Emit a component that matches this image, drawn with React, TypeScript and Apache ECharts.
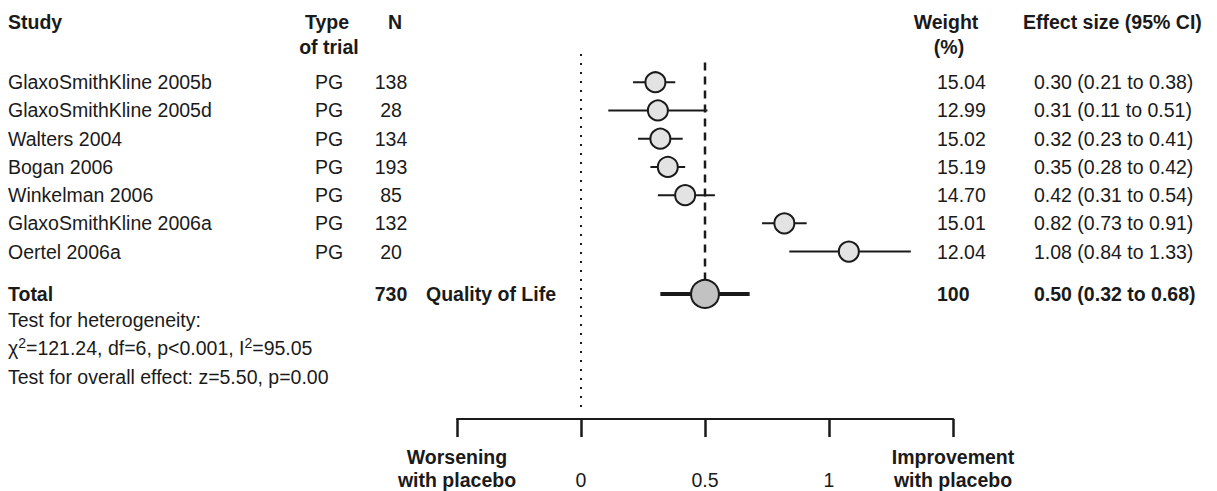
import React, { useEffect, useRef } from "react";
import * as echarts from "echarts";

// Study rows
const studies = [
  "GlaxoSmithKline 2005b",
  "GlaxoSmithKline 2005d",
  "Walters 2004",
  "Bogan 2006",
  "Winkelman 2006",
  "GlaxoSmithKline 2006a",
  "Oertel 2006a",
];
const trialTypes = ["PG", "PG", "PG", "PG", "PG", "PG", "PG"];
const sampleSizes = [138, 28, 134, 193, 85, 132, 20];
const weights = ["15.04", "12.99", "15.02", "15.19", "14.70", "15.01", "12.04"];
const effects = [0.3, 0.31, 0.32, 0.35, 0.42, 0.82, 1.08];
const lowerCI = [0.21, 0.11, 0.23, 0.28, 0.31, 0.73, 0.84];
const upperCI = [0.38, 0.51, 0.41, 0.42, 0.54, 0.91, 1.33];

// Pooled estimate
const totalN = 730;
const totalWeight = "100";
const totalEffect = 0.5;
const totalLower = 0.32;
const totalUpper = 0.68;
const outcomeLabel = "Quality of Life";

// Axis
const xTicks = [-0.5, 0, 0.5, 1, 1.5];
const leftEndLabel = ["Worsening", "with placebo"];
const rightEndLabel = ["Improvement", "with placebo"];

const TOTAL_ROW = 7.5;
const FONT = '"Liberation Sans", Arial, Helvetica, sans-serif';
const FS = 19.5;
const INK = "#1a1a1a";

const fmt = (v: number) => v.toFixed(2);

export default function App() {
  const ref = useRef<HTMLDivElement | null>(null);

  useEffect(() => {
    if (!ref.current) return;
    const chart = echarts.init(ref.current, undefined, { renderer: "svg" });

    const rows = studies.map((_, i) => [effects[i], lowerCI[i], upperCI[i], i, 0]);
    rows.push([totalEffect, totalLower, totalUpper, TOTAL_ROW, 1]);

    chart.setOption({
      animation: false,
      grid: { left: 457, right: 264, top: 54, bottom: 71 },
      xAxis: {
        type: "value",
        min: xTicks[0],
        max: xTicks[xTicks.length - 1],
        interval: 0.5,
        splitLine: { show: false },
        axisLine: { show: true, onZero: false, lineStyle: { color: INK, width: 2 } },
        axisTick: { show: true, length: 18, lineStyle: { color: INK, width: 2.5 } },
        axisLabel: {
          show: true,
          showMinLabel: true,
          showMaxLabel: true,
          margin: 26,
          color: INK,
          fontFamily: FONT,
          fontSize: FS,
          lineHeight: 23,
          formatter: (v: number) => {
            if (Math.abs(v - xTicks[0]) < 1e-9)
              return leftEndLabel.map((s) => `{b|${s}}`).join("\n");
            if (Math.abs(v - xTicks[xTicks.length - 1]) < 1e-9)
              return rightEndLabel.map((s) => `{b|${s}}`).join("\n");
            return "\n" + String(v);
          },
          rich: {
            b: { fontWeight: "bold", fontFamily: FONT, fontSize: FS, lineHeight: 23, color: INK },
          },
        },
      },
      yAxis: {
        type: "value",
        inverse: true,
        min: -1,
        max: 11.93,
        show: false,
      },
      series: [
        {
          // line of no effect
          type: "line",
          data: [],
          silent: true,
          markLine: {
            symbol: "none",
            silent: true,
            label: { show: false },
            lineStyle: { color: INK, width: 2, type: [2, 7] },
            data: [[{ coord: [0, -1] }, { coord: [0, 11.65] }]],
          },
        },
        {
          // pooled estimate reference
          type: "line",
          data: [
            [totalEffect, -0.7],
            [totalEffect, TOTAL_ROW],
          ],
          symbol: "none",
          silent: true,
          lineStyle: { color: INK, width: 2.5, type: [8, 6] },
          z: 2,
        },
        {
          type: "custom",
          z: 3,
          data: rows,
          encode: { x: [0, 1, 2], y: 3 },
          renderItem: (_params: any, api: any) => {
            const y = api.value(3);
            const isTotal = api.value(4) === 1;
            const lo = api.coord([api.value(1), y]);
            const hi = api.coord([api.value(2), y]);
            const c = api.coord([api.value(0), y]);
            return {
              type: "group",
              children: [
                {
                  type: "line",
                  shape: { x1: lo[0], y1: lo[1], x2: hi[0], y2: hi[1] },
                  style: { stroke: INK, lineWidth: isTotal ? 4 : 2 },
                },
                {
                  type: "circle",
                  shape: { cx: c[0], cy: c[1], r: isTotal ? 14 : 10 },
                  style: {
                    fill: isTotal ? "#c2c2c2" : "#e3e3e3",
                    stroke: INK,
                    lineWidth: 2,
                  },
                },
              ],
            };
          },
        },
      ],
    });

    const rowY = (r: number) => chart.convertToPixel({ yAxisIndex: 0 }, r) as number;
    const txt = (
      text: string,
      x: number,
      y: number,
      align: "left" | "center" | "right" = "left",
      bold = false
    ) => ({
      type: "text",
      x,
      y,
      silent: true,
      style: {
        text,
        align,
        verticalAlign: "middle",
        fill: INK,
        font: `${bold ? "bold " : ""}${FS}px ${FONT}`,
      },
    });

    const g: any[] = [];
    // headers
    g.push(txt("Study", 8, 22, "left", true));
    g.push(txt("Type", 327, 22, "center", true));
    g.push(txt("of trial", 329, 47, "center", true));
    g.push(txt("N", 395, 22, "center", true));
    g.push(txt("Weight", 946, 22, "center", true));
    g.push(txt("(%)", 949, 47, "center", true));
    g.push(txt("Effect size (95% CI)", 1023, 22, "left", true));

    studies.forEach((s, i) => {
      const y = rowY(i);
      g.push(txt(s, 8, y));
      g.push(txt(trialTypes[i], 329, y, "center"));
      g.push(txt(String(sampleSizes[i]), 391, y, "center"));
      g.push(txt(weights[i], 937, y));
      g.push(txt(`${fmt(effects[i])} (${fmt(lowerCI[i])} to ${fmt(upperCI[i])})`, 1034, y));
    });

    const ty = rowY(TOTAL_ROW);
    g.push(txt("Total", 8, ty, "left", true));
    g.push(txt(String(totalN), 391, ty, "center", true));
    g.push(txt(outcomeLabel, 556, ty, "right", true));
    g.push(txt(totalWeight, 937, ty, "left", true));
    g.push(
      txt(`${fmt(totalEffect)} (${fmt(totalLower)} to ${fmt(totalUpper)})`, 1034, ty, "left", true)
    );

    g.push(txt("Test for heterogeneity:", 8, 320));
    g.push({
      type: "text",
      x: 8,
      y: 348,
      silent: true,
      style: {
        text: "{n|χ}{s|2}{n|=121.24, df=6, p<0.001, I}{s|2}{n|=95.05}",
        align: "left",
        verticalAlign: "middle",
        rich: {
          n: { fontFamily: FONT, fontSize: FS, lineHeight: 24, fill: INK, color: INK },
          s: {
            fontFamily: FONT,
            fontSize: 14,
            lineHeight: 24,
            fill: INK,
            color: INK,
            verticalAlign: "top",
          },
        },
      },
    });
    g.push(txt("Test for overall effect: z=5.50, p=0.00", 8, 377));

    chart.setOption({ graphic: g });

    return () => chart.dispose();
  }, []);

  return (
    <div
      ref={ref}
      style={{ position: "absolute", left: 0, top: 0, width: 1217, height: 491, background: "#fff" }}
    />
  );
}
